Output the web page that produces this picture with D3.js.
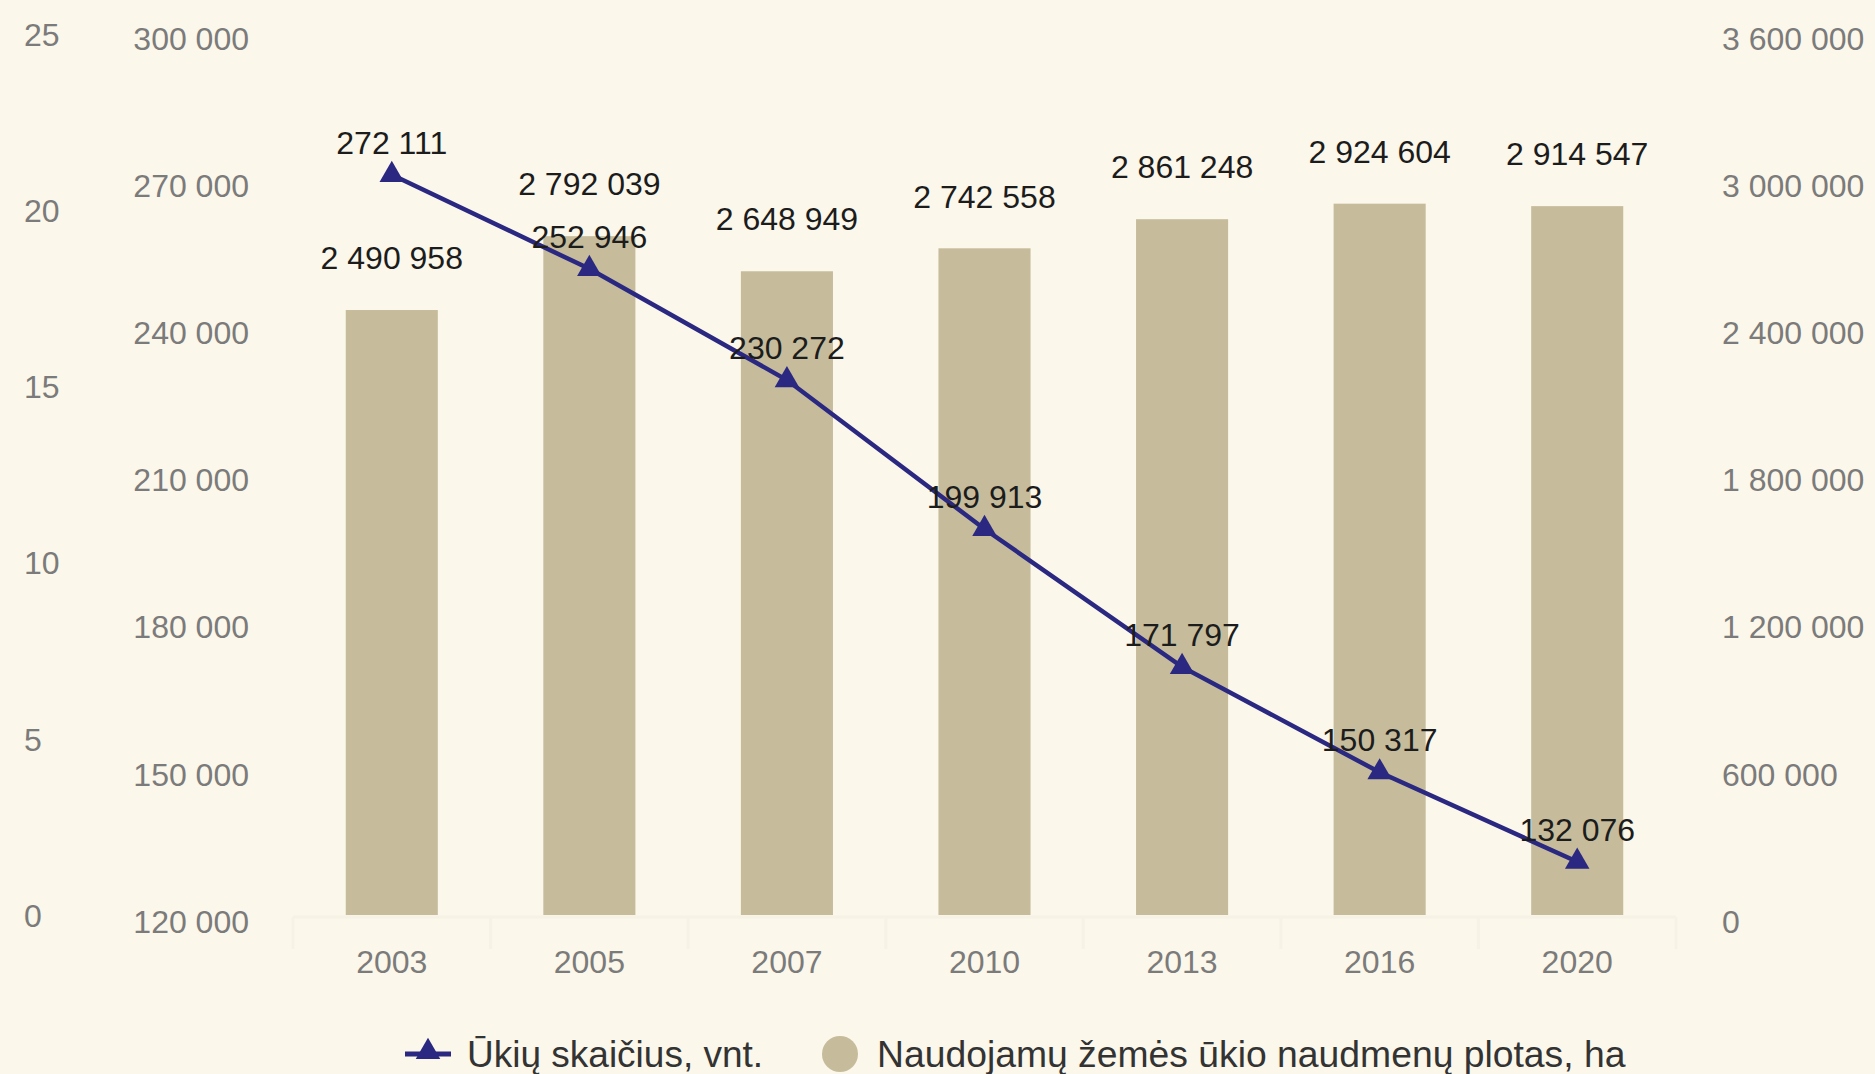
<!DOCTYPE html>
<html>
<head>
<meta charset="utf-8">
<script src="https://cdn.jsdelivr.net/npm/d3@7"></script>
<style>
  html, body { margin: 0; padding: 0; background: #fbf7ea; }
  svg { display: block; font-family: "Liberation Sans", Arial, sans-serif; }
</style>
</head>
<body>
<script>
// years on the x axis
var years = ["2003", "2005", "2007", "2010", "2013", "2016", "2020"];
// number of farms (line, left axis)
var farms = [272111, 252946, 230272, 199913, 171797, 150317, 132076];
// utilised agricultural area, ha (bars, right axis)
var area = [2490958, 2792039, 2648949, 2742558, 2861248, 2924604, 2914547];

// tick labels of the three value axes
var farLeftTicks = [0, 5, 10, 15, 20, 25];
var leftTicks = [120000, 150000, 180000, 210000, 240000, 270000, 300000];
var rightTicks = [0, 600000, 1200000, 1800000, 2400000, 3000000, 3600000];

var legendLine = "Ūkių skaičius, vnt.";
var legendBar = "Naudojamų žemės ūkio naudmenų plotas, ha";

var W = 1875, H = 1074;
var bg = "#fbf7ea",
    barColor = "#c6bc9c",
    lineColor = "#2a2880",
    axisText = "#7b7b7b",
    labelText = "#1c1c1c";

var fmt = d3.formatLocale({decimal: ",", thousands: " ", grouping: [3], currency: ["", ""]}).format(",d");

var svg = d3.select("body").append("svg")
    .attr("width", W)
    .attr("height", H);

svg.append("rect").attr("width", W).attr("height", H).attr("fill", bg);

//scales
var x = d3.scaleBand().domain(years).range([293, 1676]).paddingInner(0.534).paddingOuter(0.267);
var yL = d3.scaleLinear().domain([120000, 300000]).range([921, 38]);
var yR = d3.scaleLinear().domain([0, 3600000]).range([921, 38]);
var yF = d3.scaleLinear().domain([0, 25]).range([915, 34]);

function cx(d) { return x(d) + x.bandwidth() / 2; }

var rows = years.map(function (y, i) { return {year: y, farms: farms[i], area: area[i]}; });

// axes
function styleAxis(g, anchor) {
  g.select(".domain").remove();
  g.selectAll("text")
    .attr("fill", axisText)
    .attr("font-size", 32)
    .attr("dy", "0.35em")
    .attr("text-anchor", anchor);
}

svg.append("g")
  .attr("transform", "translate(24,0)")
  .call(d3.axisRight(yF).tickValues(farLeftTicks).tickSize(0).tickPadding(0))
  .call(styleAxis, "start");

svg.append("g")
  .attr("transform", "translate(249,0)")
  .call(d3.axisLeft(yL).tickValues(leftTicks).tickSize(0).tickPadding(0).tickFormat(fmt))
  .call(styleAxis, "end");

svg.append("g")
  .attr("transform", "translate(1722,0)")
  .call(d3.axisRight(yR).tickValues(rightTicks).tickSize(0).tickPadding(0).tickFormat(fmt))
  .call(styleAxis, "start");

// very faint category axis line and band ticks
var base = yR(0) - 4;
svg.append("line")
  .attr("x1", x.range()[0]).attr("x2", x.range()[1])
  .attr("y1", base).attr("y2", base)
  .attr("stroke", "#f6f2e6").attr("stroke-width", 3);

svg.append("g").selectAll("line")
  .data(years.concat(["end"]))
  .join("line")
    .attr("x1", function (d, i) { return x.range()[0] + i * x.step(); })
    .attr("x2", function (d, i) { return x.range()[0] + i * x.step(); })
    .attr("y1", base).attr("y2", base + 32)
    .attr("stroke", "#f6f2e6").attr("stroke-width", 3);

var gx = svg.append("g")
  .attr("transform", "translate(0," + base + ")")
  .call(d3.axisBottom(x).tickSize(0).tickPadding(0));
gx.select(".domain").remove();
gx.selectAll("text")
  .attr("fill", axisText)
  .attr("font-size", 32)
  .attr("y", 45)
  .attr("dy", "0.35em");

// bars
svg.append("g").selectAll("rect")
  .data(rows)
  .join("rect")
    .attr("x", function (d) { return x(d.year); })
    .attr("width", x.bandwidth())
    .attr("y", function (d) { return yR(d.area); })
    .attr("height", function (d) { return base - 2 - yR(d.area); })
    .attr("fill", barColor);

// bar labels
svg.append("g").selectAll("text")
  .data(rows)
  .join("text")
    .attr("x", function (d) { return cx(d.year); })
    .attr("y", function (d) { return yR(d.area) - 52; })
    .attr("dy", "0.35em")
    .attr("text-anchor", "middle")
    .attr("font-size", 32)
    .attr("fill", labelText)
    .text(function (d) { return fmt(d.area); });

// line of farm counts
var line = d3.line()
    .x(function (d) { return cx(d.year); })
    .y(function (d) { return yL(d.farms); });

svg.append("path")
  .datum(rows)
  .attr("d", line)
  .attr("fill", "none")
  .attr("stroke", lineColor)
  .attr("stroke-width", 4.5);

var tri = d3.symbol().type(d3.symbolTriangle).size(260);

svg.append("g").selectAll("path")
  .data(rows)
  .join("path")
    .attr("d", tri)
    .attr("transform", function (d) { return "translate(" + cx(d.year) + "," + yL(d.farms) + ")"; })
    .attr("fill", lineColor);

svg.append("g").selectAll("text")
  .data(rows)
  .join("text")
    .attr("x", function (d) { return cx(d.year); })
    .attr("y", function (d) { return yL(d.farms) - 32; })
    .attr("dy", "0.35em")
    .attr("text-anchor", "middle")
    .attr("font-size", 32)
    .attr("fill", labelText)
    .text(function (d) { return fmt(d.farms); });

// legend
var lg = svg.append("g").attr("transform", "translate(0,1054)");
lg.append("line")
  .attr("x1", 405).attr("x2", 451).attr("y1", 0).attr("y2", 0)
  .attr("stroke", lineColor).attr("stroke-width", 5);
lg.append("path")
  .attr("d", tri)
  .attr("transform", "translate(428,-2)")
  .attr("fill", lineColor);
lg.append("text")
  .attr("x", 467).attr("y", 13)
  .attr("font-size", 37)
  .attr("fill", "#333")
  .text(legendLine);
lg.append("circle")
  .attr("cx", 840).attr("cy", 0).attr("r", 18)
  .attr("fill", barColor);
lg.append("text")
  .attr("x", 877).attr("y", 13)
  .attr("font-size", 37.3)
  .attr("fill", "#333")
  .text(legendBar);
</script>
</body>
</html>
